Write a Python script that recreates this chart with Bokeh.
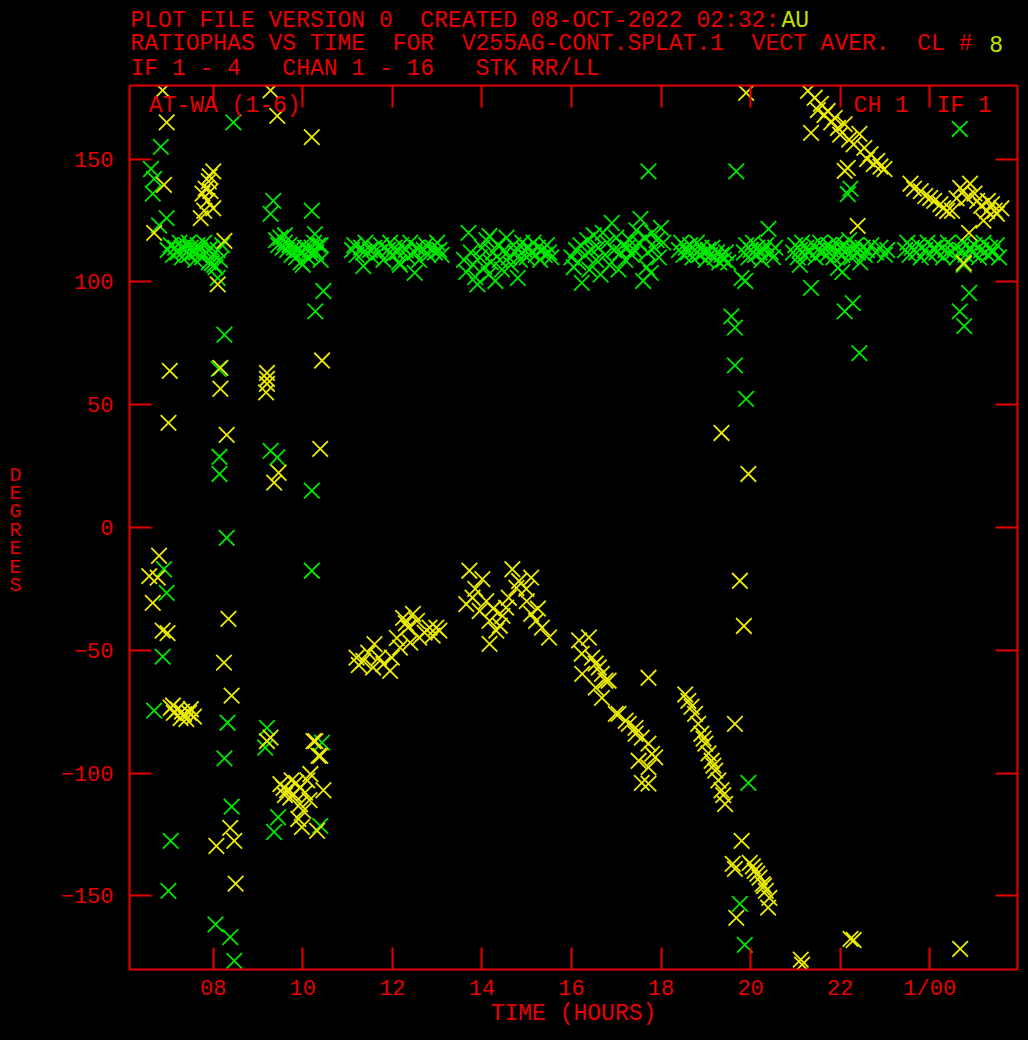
from bokeh.plotting import figure
from bokeh.layouts import column, row
from bokeh.models import Range1d, LinearAxis, FixedTicker, Label, CustomJSTickFormatter
from bokeh.core.properties import value
from bokeh.embed import file_html
from bokeh.resources import INLINE

# ---------------- data (time in hours, phase in degrees) ----------------
x_ticks = [8, 10, 12, 14, 16, 18, 20, 22, 24]
x_tick_text = {8: "08", 24: "1/00"}
y_ticks = [-150, -100, -50, 0, 50, 100, 150]

title_line1 = "PLOT FILE VERSION 0  CREATED 08-OCT-2022 02:32:"
title_line1_tail = "AU"
title_line2 = "RATIOPHAS VS TIME  FOR  V255AG-CONT.SPLAT.1  VECT AVER.  CL # "
title_line2_tail = "8"
title_line3 = "IF 1 - 4   CHAN 1 - 16   STK RR/LL"
baseline_text = "AT-WA (1-6)"
channel_text = "CH 1  IF 1"
x_label = "TIME (HOURS)"
y_label = "DEGREES"

green_points = [
    # scattered points, early scans
    (6.83, 155), (6.61, 146), (6.68, 142), (6.65, 136), (6.96, 126), (6.79, 123),
    (8.45, 165), (8.10, 101.6), (8.25, 78.5), (8.12, 64.6), (9.34, 133), (9.28, 127.7),
    (10.20, 129), (10.27, 119.5), (10.40, 115), (10.46, 96.3), (10.28, 88),
    (8.14, 28.8), (8.14, 21.8), (9.28, 31.2), (9.43, 28.5), (10.20, 15), (8.30, -4.2),
    (10.20, -17.6), (6.90, -17), (6.96, -26.6), (6.87, -52.6), (6.68, -74.6),
    (8.32, -79.5), (9.20, -81.6), (8.25, -94), (8.41, -113.7), (9.45, -118),
    (9.36, -124), (10.39, -121.5), (7.05, -127.6), (7.00, -148), (8.05, -161.6),
    (8.38, -166.8), (8.47, -176.5), (9.16, -89.6), (10.43, -87.6), (7.97, 107.7),
    # scan 7.0-8.2 h
    (6.98, 113), (7.05, 115), (7.10, 111), (7.15, 114), (7.20, 112), (7.25, 116),
    (7.30, 110), (7.35, 113), (7.40, 115), (7.45, 111), (7.50, 114), (7.55, 112),
    (7.60, 109), (7.65, 115), (7.70, 113), (7.75, 110), (7.80, 116), (7.85, 112),
    (7.90, 108), (7.95, 114), (8.00, 111), (8.05, 106), (8.10, 113), (8.15, 109),
    (8.20, 115), (7.30, 114), (7.45, 116), (7.62, 112), (7.90, 113), (8.02, 107),
    # scan 9.4-10.5 h
    (9.40, 117), (9.45, 115), (9.50, 118), (9.55, 114), (9.60, 116), (9.65, 113),
    (9.70, 115), (9.75, 111), (9.80, 114), (9.85, 110), (9.90, 113), (9.95, 108),
    (10.00, 112), (10.05, 114), (10.10, 110), (10.15, 113), (10.20, 111), (10.25, 116),
    (10.30, 112), (10.35, 115), (10.40, 109), (9.60, 119), (9.80, 112), (10.00, 107),
    (10.20, 114),
    # scan 11.1-13.1 h
    (11.10, 113), (11.15, 115), (11.20, 111), (11.30, 114), (11.35, 112), (11.40, 116),
    (11.50, 113), (11.55, 110), (11.60, 114), (11.70, 112), (11.75, 115), (11.80, 109),
    (11.90, 113), (11.95, 116), (12.00, 111), (12.05, 114), (12.10, 112), (12.15, 108),
    (12.20, 115), (12.30, 113), (12.35, 110), (12.40, 116), (12.50, 112), (12.55, 114),
    (12.60, 109), (12.70, 113), (12.75, 115), (12.80, 111), (12.90, 114), (12.95, 112),
    (13.00, 116), (13.05, 113), (13.10, 111), (11.35, 106.5), (12.17, 107), (12.50, 103.7),
    # scan 13.6-15.6 h
    (13.60, 109), (13.65, 104), (13.70, 120), (13.75, 112), (13.80, 107), (13.85, 102),
    (13.90, 99), (13.95, 110), (14.00, 114), (14.05, 106), (14.10, 117), (14.15, 103),
    (14.17, 118.7), (14.20, 108), (14.25, 112), (14.30, 100.4), (14.35, 115), (14.40, 109),
    (14.45, 105), (14.50, 113), (14.55, 118), (14.60, 110), (14.65, 107), (14.70, 115),
    (14.75, 112), (14.80, 101.6), (14.85, 109), (14.90, 116), (14.95, 113), (15.00, 110),
    (15.05, 114), (15.10, 112), (15.15, 116), (15.20, 111), (15.25, 114), (15.30, 109),
    (15.35, 113), (15.40, 111), (15.45, 115), (15.50, 112), (15.55, 110),
    # scan 16.0-18.1 h
    (16.00, 110), (16.05, 106), (16.10, 113), (16.15, 108), (16.20, 115), (16.23, 99.6),
    (16.30, 111), (16.35, 117), (16.40, 105), (16.45, 113), (16.50, 119), (16.55, 109),
    (16.60, 114), (16.65, 103), (16.70, 120), (16.75, 111), (16.80, 116), (16.85, 107),
    (16.90, 124), (16.95, 113), (17.00, 118), (17.05, 105), (17.10, 112), (17.15, 115),
    (17.20, 109), (17.25, 114), (17.30, 117), (17.35, 111), (17.40, 113), (17.45, 121),
    (17.50, 116), (17.54, 125.7), (17.60, 100.4), (17.65, 118), (17.70, 112), (17.72, 145),
    (17.77, 103.7), (17.80, 120), (17.85, 114), (17.90, 117), (17.95, 110), (18.00, 122),
    (18.05, 116), (17.68, 106),
    # scan 18.4-19.5 h
    (18.40, 113), (18.45, 116), (18.50, 111), (18.55, 114), (18.60, 112), (18.65, 115),
    (18.70, 110), (18.75, 113), (18.80, 116), (18.85, 111), (18.90, 114), (18.95, 112),
    (19.00, 109), (19.05, 113), (19.10, 111), (19.15, 114), (19.20, 110), (19.25, 112),
    (19.30, 108), (19.35, 111), (19.40, 109), (19.45, 112), (19.50, 108),
    # scan 19.8-20.6 h
    (19.85, 112), (19.90, 115), (19.95, 110), (20.00, 113), (20.05, 116), (20.10, 111),
    (20.15, 114), (20.20, 112), (20.25, 109), (20.30, 113), (20.35, 115), (20.40, 121.6),
    (20.45, 112), (20.50, 110), (20.55, 114),
    (19.68, 145), (19.80, 101.6), (19.88, 100.4), (19.57, 86), (19.65, 81.4), (19.65, 66),
    (19.90, 52.4), (19.95, -104), (19.76, -153.3), (19.87, -170),
    # scan 20.9-23.1 h
    (20.95, 112), (21.00, 115), (21.05, 110), (21.10, 113), (21.15, 116), (21.20, 111),
    (21.25, 114), (21.30, 112), (21.40, 115), (21.45, 110), (21.50, 113), (21.55, 116),
    (21.60, 112), (21.65, 114), (21.70, 111), (21.75, 115), (21.80, 113), (21.85, 110),
    (21.90, 116), (21.95, 112), (22.00, 114), (22.05, 111), (22.10, 115), (22.15, 113),
    (22.20, 117), (22.25, 110), (22.30, 113), (22.35, 115), (22.40, 112), (22.45, 108),
    (22.50, 114), (22.55, 111), (22.60, 113), (22.70, 115), (22.80, 112), (22.90, 114),
    (23.00, 111), (23.05, 113),
    (22.23, 138), (22.17, 135.8), (21.35, 97.6), (22.10, 88), (22.28, 91.4), (22.43, 71),
    (21.95, 105.7), (22.05, 104), (21.10, 107),
    # scan 23.4-25.6 h
    (23.45, 113), (23.50, 116), (23.55, 111), (23.60, 114), (23.70, 112), (23.75, 115),
    (23.80, 110), (23.90, 113), (23.95, 116), (24.00, 111), (24.10, 114), (24.15, 112),
    (24.20, 115), (24.30, 110), (24.35, 113), (24.40, 116), (24.50, 112), (24.55, 114),
    (24.60, 110), (24.70, 113), (24.75, 116), (24.80, 111), (24.90, 114), (24.95, 112),
    (25.00, 115), (25.10, 110), (25.15, 113), (25.20, 116), (25.30, 111), (25.35, 114),
    (25.40, 112), (25.50, 115), (25.55, 110),
    (24.67, 162.3), (24.88, 95.5), (24.67, 88), (24.77, 82), (24.76, 107),
]

yellow_points = [
    # early scans, scattered
    (6.87, 178), (9.28, 178), (6.96, 165), (9.43, 167.6), (10.20, 159), (6.90, 139.5),
    (6.68, 120), (8.00, 145), (7.90, 141), (7.76, 136), (7.87, 133), (7.72, 126),
    (8.00, 130), (7.94, 137), (7.83, 138), (7.80, 129), (7.92, 143), (8.25, 116.7),
    (8.10, 99), (7.03, 63.8), (8.16, 65), (8.16, 56.5), (9.20, 63), (9.20, 60.5),
    (9.20, 58.5), (9.18, 55), (10.43, 68), (7.00, 42.6), (8.30, 37.7), (10.39, 32),
    (9.36, 18.3), (9.46, 22.3), (6.79, -11.5), (6.57, -19.8), (6.65, -30.7), (6.76, -20.4),
    (6.87, -42), (6.98, -43), (8.34, -37.2), (8.24, -55), (8.41, -68.5),
    (7.05, -73.4), (7.12, -75.5), (7.20, -74), (7.27, -77.6), (7.35, -76), (7.46, -75.5),
    (7.57, -77), (7.10, -72.5), (7.30, -75), (7.40, -78), (7.50, -74),
    (9.20, -87), (9.28, -85.6), (10.24, -87), (10.39, -93), (10.28, -87), (10.35, -93),
    (9.50, -104.5), (9.57, -106), (9.65, -107), (9.72, -110), (9.79, -108.6), (9.94, -106),
    (10.10, -103), (10.17, -100.4), (10.46, -107), (9.94, -112.6), (10.01, -115.4),
    (9.90, -118.7), (9.98, -122), (10.32, -123.5), (9.60, -109), (9.85, -104), (10.05, -108),
    (9.75, -103), (10.15, -111),
    (8.38, -122.3), (8.47, -127.6), (8.07, -129.7), (8.50, -145),
    # scan 11.1-13.1 h
    (11.35, -54.3), (11.57, -57), (11.80, -55.6), (11.95, -58.4), (11.60, -47.5),
    (12.24, -36.8), (12.46, -35.2), (12.83, -40.8), (12.98, -40.8), (12.60, -44.8),
    (12.17, -48.9), (11.20, -53), (11.46, -51), (11.99, -53), (12.35, -40.8), (12.72, -42.8),
    (12.40, -46.9), (11.25, -56), (11.70, -53), (12.10, -45), (12.55, -38), (12.90, -44),
    (13.05, -42), (12.30, -39),
    # scan 13.6-15.5 h
    (13.72, -17.6), (14.01, -21), (13.79, -28.6), (13.65, -31.2), (13.95, -34), (14.17, -38),
    (14.17, -47.4), (14.32, -42), (14.46, -36), (14.68, -17), (14.83, -21.8), (14.99, -25),
    (14.60, -28.6), (14.54, -32.6), (15.10, -35.2), (15.21, -38), (15.34, -40.8),
    (15.50, -44.8), (14.77, -24.6), (15.10, -20.4), (13.85, -25), (14.10, -30),
    (14.25, -33), (14.40, -40), (15.00, -30), (15.25, -33),
    # scan 16.1-17.9 h
    (16.17, -46), (16.39, -44.8), (16.23, -51.4), (16.54, -55.4), (16.68, -59.6),
    (16.83, -62.4), (16.54, -65.2), (16.68, -69.4), (16.99, -75.9), (17.21, -78.7),
    (17.43, -81.6), (17.57, -85.6), (17.80, -92.2), (17.72, -97.7), (17.72, -104.3),
    (17.50, -95), (17.72, -61.2), (16.46, -53), (16.61, -57), (16.76, -62.4), (16.24, -59.6),
    (17.05, -75.9), (17.28, -80), (17.43, -84), (17.72, -88), (17.87, -93.6), (17.57, -104),
    # scan 18.5-19.5 h
    (18.54, -68), (18.61, -70.6), (18.76, -75.9), (18.83, -80), (18.90, -84), (18.99, -88),
    (19.06, -92), (19.13, -95), (19.21, -99), (19.28, -103), (19.35, -107), (19.43, -112.6),
    (18.68, -73), (18.95, -86), (19.17, -97), (19.39, -109),
    (19.65, -80), (19.35, 38.5), (19.95, 21.8), (19.76, -21.7), (19.85, -40.1),
    # scan 19.6-20.5 h
    (19.80, -127.6), (19.60, -137), (19.65, -139), (19.98, -136.6), (20.09, -139.8),
    (20.20, -142.6), (20.27, -145.2), (20.34, -148), (20.42, -150.8), (20.39, -154.8),
    (19.68, -159), (20.05, -138), (20.15, -141), (20.30, -146),
    (21.12, -176), (21.15, -178), (22.23, -167.5), (22.30, -168), (24.68, -171.6),
    (19.90, 177),
    # scan 21.3-23.0 h
    (21.28, 177.8), (21.43, 175), (21.57, 172.5), (21.72, 169.6), (21.88, 166.8),
    (21.95, 162.7), (22.10, 164.3), (21.35, 160.7), (22.43, 160.3), (22.54, 154.6),
    (22.68, 152), (22.83, 149.3), (22.99, 146), (22.17, 146.4), (22.10, 145.2),
    (21.50, 170), (21.65, 168), (21.80, 165), (22.00, 160), (22.20, 158), (22.30, 156),
    (22.60, 150), (22.75, 148), (22.90, 147), (22.39, 122.8),
    # scan 23.5-25.6 h
    (23.57, 140), (23.80, 137), (24.01, 134.2), (24.24, 131.7), (24.39, 128.9),
    (24.68, 138.3), (24.90, 140), (25.06, 133), (25.28, 128.9), (25.50, 127.7),
    (24.83, 134.2), (25.39, 131.7), (23.65, 138), (23.90, 135), (24.10, 133), (24.30, 130),
    (24.50, 129), (24.60, 134), (24.75, 137), (25.00, 136), (25.15, 131), (25.30, 133),
    (25.45, 129), (25.60, 130), (25.20, 125), (24.88, 120), (24.76, 107.7),
]

# ---------------- styling ----------------
FONT = "Liberation Mono"
RED = "#e80000"
GREEN = "#00e800"
YELLOW = "#ecec00"
MIX = "#c4e000"
FS = "23px"
ADV = 13.85          # character advance in px
W, H = 1028, 1040
TOP_H = 84           # height of the heading strip
LEFT_W = 30          # width of the strip holding the y label


def keep_spaces(s):
    # SVG collapses runs of spaces; keep the original spacing visible
    return s.replace("  ", " \u00a0")


def blank_fig(w, h, yr_top, yr_bottom):
    f = figure(width=w, height=h, x_range=Range1d(0, w), y_range=Range1d(yr_bottom, yr_top),
               output_backend="svg", toolbar_location=None,
               x_axis_type=None, y_axis_type=None,
               background_fill_color="black", border_fill_color="black",
               outline_line_color=None, min_border=0)
    f.grid.visible = False
    return f


# heading strip (page pixel coordinates, y downward)
head = blank_fig(W, TOP_H, 0, TOP_H)
head.text(x=[130, 130, 130], y=[20, 43.5, 68.5],
          text=[keep_spaces(title_line1), keep_spaces(title_line2), keep_spaces(title_line3)],
          text_font=value(FONT), text_font_size=FS, text_color=RED,
          text_baseline="middle", text_align="left")
head.text(x=[130 + len(title_line1) * ADV, 130 + len(title_line2) * ADV], y=[20, 43.5],
          text=[title_line1_tail, title_line2_tail],
          text_font=value(FONT), text_font_size=FS, text_color=MIX,
          text_baseline="middle", text_align="left")

# y label strip (page pixel coordinates)
side = blank_fig(LEFT_W, H - TOP_H, TOP_H, H)
side.text(x=[15], y=[565], text=["\n".join(y_label)],
          text_font=value(FONT), text_font_size="20px", text_color=RED,
          text_baseline="middle", text_align="center", text_line_height=0.8)

# main plot
p = figure(width=W - LEFT_W, height=H - TOP_H,
           x_range=Range1d(6.13, 25.96), y_range=Range1d(-180, 180),
           output_backend="svg", toolbar_location=None,
           background_fill_color="black", border_fill_color="black",
           outline_line_color=None,
           min_border_left=129 - LEFT_W, min_border_right=11,
           min_border_top=85 - TOP_H, min_border_bottom=71)
p.grid.visible = False


def style_axis(ax, ticks):
    ax.ticker = FixedTicker(ticks=ticks)
    ax.axis_line_color = RED
    ax.axis_line_width = 2
    ax.major_tick_line_color = RED
    ax.major_tick_line_width = 2
    ax.major_tick_in = 22
    ax.major_tick_out = 0
    ax.minor_tick_line_color = None
    ax.major_label_text_font = FONT
    ax.major_label_text_font_size = "22px"
    ax.major_label_text_color = RED


xa = p.xaxis[0]
style_axis(xa, x_ticks)
xa.major_label_overrides = x_tick_text
xa.major_label_standoff = 7
xa.axis_label = x_label
xa.axis_label_text_font = FONT
xa.axis_label_text_font_size = FS
xa.axis_label_text_font_style = "normal"
xa.axis_label_text_color = RED
xa.axis_label_standoff = -4

ya = p.yaxis[0]
style_axis(ya, y_ticks)
ya.major_label_standoff = 16

for loc, ticks in (("above", x_ticks), ("right", y_ticks)):
    ax = LinearAxis()
    style_axis(ax, ticks)
    ax.formatter = CustomJSTickFormatter(code="return ''")
    ax.major_label_text_font_size = "0px"
    ax.major_label_standoff = 0
    p.add_layout(ax, loc)

p.scatter([t for t, _ in green_points], [d for _, d in green_points],
          marker="x", size=22, line_color=GREEN, line_width=1.8)
p.scatter([t for t, _ in yellow_points], [d for _, d in yellow_points],
          marker="x", size=22, line_color=YELLOW, line_width=1.8)

for x, text in ((6.56, baseline_text), (22.30, channel_text)):
    p.add_layout(Label(x=x, y=171.5, text=keep_spaces(text),
                       text_font=FONT, text_font_size=FS, text_color=RED,
                       text_baseline="middle"))

layout = column(head, row(side, p, spacing=0), spacing=0)

html = file_html(layout, INLINE)
html = html.replace("</head>", "<style>html,body{background-color:#000000;}</style></head>", 1)
open("out.html", "w").write(html)
